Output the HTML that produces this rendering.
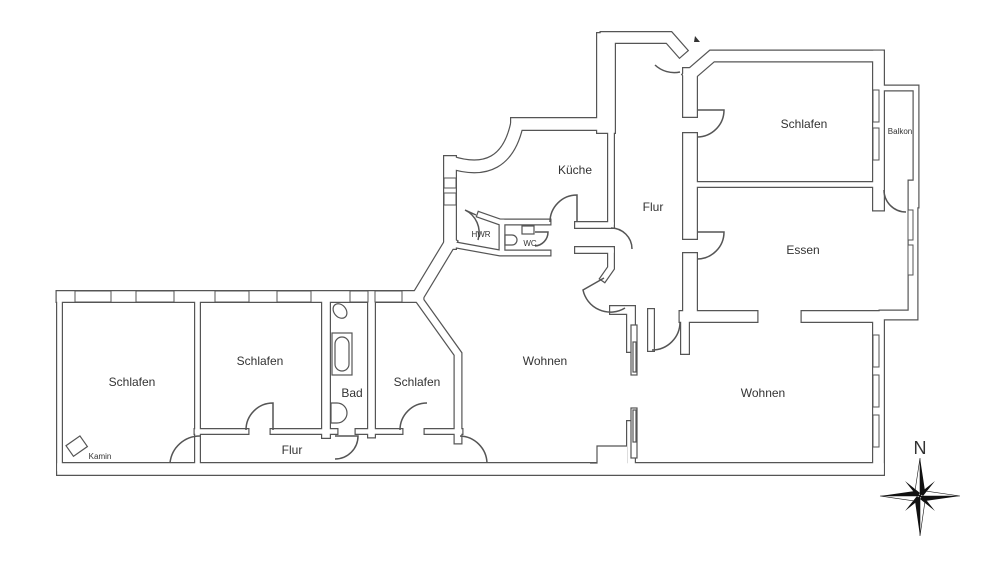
<!DOCTYPE html>
<html><head><meta charset="utf-8"><style>
html,body{margin:0;padding:0;background:#fff;width:1000px;height:564px;overflow:hidden}
svg{display:block}
text{font-family:"Liberation Sans",sans-serif;fill:#333}
</style></head><body>
<svg width="1000" height="564" viewBox="0 0 1000 564" xmlns="http://www.w3.org/2000/svg">
<g fill="none" stroke="#555" stroke-linecap="square">
  <path d="M62,296.5 H418" stroke-width="13"/>
  <path d="M59.5,296 V469" stroke-width="7"/>
  <path d="M63,469 H878" stroke-width="14"/>
  <path d="M878.5,322 V469" stroke-width="13"/>
  <path d="M418,296 L450,243" stroke-width="13"/>
  <path d="M450,243 V162" stroke-width="14"/>
  <path d="M450,162 Q505,180 517,124" stroke-width="14" stroke-linecap="butt"/>
  <path d="M517,124 H603" stroke-width="14"/>
  <path d="M606,124 V42" stroke-width="20"/>
  <path d="M606,37.5 H669 L680,50" stroke-width="13"/>
  <path d="M690,75 L712,56 H878" stroke-width="13"/>
  <path d="M690,75 V110" stroke-width="16"/>
  <path d="M690,140 V232" stroke-width="16"/>
  <path d="M690,260 V311" stroke-width="16"/>
  <path d="M878.5,56 V205" stroke-width="13"/>
  <path d="M884,88 H916 V205" stroke-width="7"/>
  <path d="M913,185 V315 H884" stroke-width="11"/>
  <path d="M690,184.5 H878" stroke-width="7"/>
  <path d="M685,316.5 H752" stroke-width="13"/>
  <path d="M807,316.5 H878" stroke-width="13"/>
  <path d="M611,130 V222" stroke-width="8"/>
  <path d="M611,252 V268 L604,278" stroke-width="8"/>
  <path d="M578,225 H611" stroke-width="8"/>
  <path d="M578,250 H611" stroke-width="8"/>
  <path d="M614,310 H631 V348" stroke-width="10"/>
  <path d="M651,312 V348" stroke-width="8"/>
  <path d="M631,425 V460" stroke-width="10"/>
  <path d="M685,316.5 V350" stroke-width="10"/>
  <path d="M456,245 L500,253 H548" stroke-width="7"/>
  <path d="M480,215 L500,222 H548" stroke-width="7"/>
  <path d="M502,222 V252" stroke-width="7"/>
  <path d="M197.5,296 V463" stroke-width="7"/>
  <path d="M197,431.5 H246" stroke-width="7"/>
  <path d="M273,431.5 H335" stroke-width="7"/>
  <path d="M326,296 V434" stroke-width="10"/>
  <path d="M371.5,296 V434" stroke-width="9"/>
  <path d="M358,431.5 H400" stroke-width="7"/>
  <path d="M427,431.5 H460" stroke-width="7"/>
  <path d="M418,298 L458,354 V440" stroke-width="9"/>
</g>
<g fill="none" stroke="#fff" stroke-linecap="square">
  <path d="M62,296.5 H418" stroke-width="10.6"/>
  <path d="M59.5,296 V469" stroke-width="4.6"/>
  <path d="M63,469 H878" stroke-width="11.6"/>
  <path d="M878.5,322 V469" stroke-width="10.6"/>
  <path d="M418,296 L450,243" stroke-width="10.6"/>
  <path d="M450,243 V162" stroke-width="11.6"/>
  <path d="M450,162 Q505,180 517,124" stroke-width="11.6" stroke-linecap="butt"/>
  <path d="M517,124 H603" stroke-width="11.6"/>
  <path d="M606,124 V42" stroke-width="17.6"/>
  <path d="M606,37.5 H669 L680,50" stroke-width="10.6"/>
  <path d="M690,75 L712,56 H878" stroke-width="10.6"/>
  <path d="M690,75 V110" stroke-width="13.6"/>
  <path d="M690,140 V232" stroke-width="13.6"/>
  <path d="M690,260 V311" stroke-width="13.6"/>
  <path d="M878.5,56 V205" stroke-width="10.6"/>
  <path d="M884,88 H916 V205" stroke-width="4.6"/>
  <path d="M913,185 V315 H884" stroke-width="8.6"/>
  <path d="M690,184.5 H878" stroke-width="4.6"/>
  <path d="M685,316.5 H752" stroke-width="10.6"/>
  <path d="M807,316.5 H878" stroke-width="10.6"/>
  <path d="M611,130 V222" stroke-width="5.6"/>
  <path d="M611,252 V268 L604,278" stroke-width="5.6"/>
  <path d="M578,225 H611" stroke-width="5.6"/>
  <path d="M578,250 H611" stroke-width="5.6"/>
  <path d="M614,310 H631 V348" stroke-width="7.6"/>
  <path d="M651,312 V348" stroke-width="5.6"/>
  <path d="M631,425 V460" stroke-width="7.6"/>
  <path d="M685,316.5 V350" stroke-width="7.6"/>
  <path d="M456,245 L500,253 H548" stroke-width="4.6"/>
  <path d="M480,215 L500,222 H548" stroke-width="4.6"/>
  <path d="M502,222 V252" stroke-width="4.6"/>
  <path d="M197.5,296 V463" stroke-width="4.6"/>
  <path d="M197,431.5 H246" stroke-width="4.6"/>
  <path d="M273,431.5 H335" stroke-width="4.6"/>
  <path d="M326,296 V434" stroke-width="7.6"/>
  <path d="M371.5,296 V434" stroke-width="6.6"/>
  <path d="M358,431.5 H400" stroke-width="4.6"/>
  <path d="M427,431.5 H460" stroke-width="4.6"/>
  <path d="M418,298 L458,354 V440" stroke-width="6.6"/>
</g>
<!-- step in bottom wall -->
<rect x="597" y="446" width="30" height="18" fill="#fff"/>
<path d="M590,463 H597 V446 H627" fill="none" stroke="#555" stroke-width="1.2"/>
<!-- windows -->
<g fill="#fff" stroke="#555" stroke-width="1">
  <rect x="75" y="291" width="36" height="11"/><rect x="136" y="291" width="38" height="11"/>
  <rect x="215" y="291" width="34" height="11"/><rect x="277" y="291" width="34" height="11"/>
  <rect x="350" y="291" width="18" height="11"/><rect x="375" y="291" width="27" height="11"/>
  <rect x="873" y="90" width="6" height="32"/><rect x="873" y="128" width="6" height="32"/>
  <rect x="873" y="335" width="6" height="32"/><rect x="873" y="375" width="6" height="32"/>
  <rect x="873" y="415" width="6" height="32"/>
  <rect x="908" y="210" width="5" height="30"/><rect x="908" y="245" width="5" height="30"/>
  <rect x="444" y="178" width="12" height="10"/><rect x="444" y="193" width="12" height="12"/>
</g>
<!-- door arcs -->
<g fill="none" stroke="#555" stroke-width="1.5">
  <path d="M246,430 A27,27 0 0 1 273,403 V430"/>
  <path d="M400,430 A27,27 0 0 1 427,403"/>
  <path d="M200,436 A30,30 0 0 0 170,463"/>
  <path d="M460,436 A28,28 0 0 1 487,463"/>
  <path d="M335,436 H358 A23,23 0 0 1 335,459"/>
  <path d="M550,222 A27,27 0 0 1 577,195 V222"/>
  <path d="M611,228 A21,21 0 0 1 632,249"/>
  <path d="M604,278 L583,290 A28,28 0 0 0 625,308"/>
  <path d="M697,110 H724 A27,27 0 0 1 697,137"/>
  <path d="M697,232 H724 A27,27 0 0 1 697,259"/>
  <path d="M652,350 A28,28 0 0 0 680,322"/>
  <path d="M884,190 A22,22 0 0 0 906,212"/>
  <path d="M655,65 A28,28 0 0 0 680,72"/>
  <path d="M465,210 L476,215 M465,210 A25,25 0 0 1 478,240"/>
  <path d="M535,232 L548,232 A14,14 0 0 1 535,246"/>
</g>
<!-- sliding door pieces, fixtures -->
<g fill="#fff" stroke="#555" stroke-width="1.2">
  <rect x="631" y="325" width="6" height="50"/><rect x="633" y="342" width="3" height="30"/>
  <rect x="631" y="408" width="6" height="50"/><rect x="633" y="410" width="3" height="32"/>
  <rect x="332" y="333" width="20" height="42"/><rect x="335" y="337" width="14" height="34" rx="7"/>
  <path d="M331,403 H337 A10,10 0 0 1 337,423 H331 Z"/>
  <ellipse cx="340" cy="311" rx="6" ry="8" transform="rotate(-40 340 311)"/>
  <rect x="68" y="440" width="17" height="13" transform="rotate(-35 76 446)"/>
  <rect x="522" y="226" width="12" height="8"/>
  <path d="M505,235 H512 A5,5 0 0 1 512,245 H505 Z"/>
</g>
<!-- labels -->
<g font-size="12" text-anchor="middle">
  <text x="132" y="386">Schlafen</text>
  <text x="260" y="365">Schlafen</text>
  <text x="352" y="397">Bad</text>
  <text x="417" y="386">Schlafen</text>
  <text x="292" y="454">Flur</text>
  <text x="545" y="365">Wohnen</text>
  <text x="763" y="397">Wohnen</text>
  <text x="575" y="174">Küche</text>
  <text x="653" y="211">Flur</text>
  <text x="804" y="128">Schlafen</text>
  <text x="803" y="254">Essen</text>
</g>
<g font-size="8" text-anchor="middle">
  <text x="100" y="459">Kamin</text>
  <text x="481" y="237">HWR</text>
  <text x="530" y="246">WC</text>
  <text x="900" y="134">Balkon</text>
</g>
<!-- compass -->
<text x="920" y="454" font-size="18" text-anchor="middle" font-family="Liberation Serif,serif">N</text>
<g transform="translate(920,496)">
  <path d="M0,-38 L5,-5 L0,0 Z" fill="#111"/><path d="M0,-38 L-5,-5 L0,0 Z" fill="#fff" stroke="#111" stroke-width=".6"/>
  <path d="M0,40 L-5,5 L0,0 Z" fill="#111"/><path d="M0,40 L5,5 L0,0 Z" fill="#fff" stroke="#111" stroke-width=".6"/>
  <path d="M40,0 L5,5 L0,0 Z" fill="#111"/><path d="M40,0 L5,-5 L0,0 Z" fill="#fff" stroke="#111" stroke-width=".6"/>
  <path d="M-40,0 L-5,-5 L0,0 Z" fill="#111"/><path d="M-40,0 L-5,5 L0,0 Z" fill="#fff" stroke="#111" stroke-width=".6"/>
  <path d="M-15,-15 L0,-3 L-3,0 Z M15,-15 L3,0 L0,-3 Z M-15,15 L-3,0 L0,3 Z M15,15 L0,3 L3,0 Z" fill="#111"/>
</g>
<path d="M695,36 L700,42 L694,42 Z" fill="#333"/>
</svg>
</body></html>
